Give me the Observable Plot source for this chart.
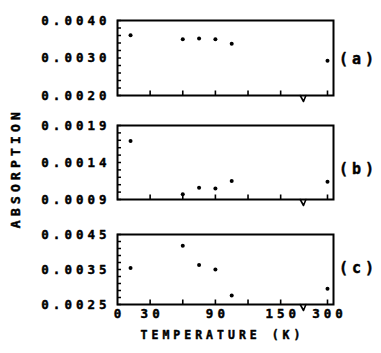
<!DOCTYPE html>
<html>
<head>
<meta charset="utf-8">
<script src="https://cdn.jsdelivr.net/npm/d3@7"></script>
<script src="https://cdn.jsdelivr.net/npm/@observablehq/plot@0.6"></script>
<style>
  body { margin: 0; background: #fff; }
  #chart { position: relative; width: 381px; height: 353px; overflow: hidden; background: #fff; }
  #chart svg { position: absolute; left: 0; overflow: visible; }
  #ylab {
    position: absolute; left: 15px; top: 168px;
    transform: translate(-50%, -50%) rotate(-90deg);
    font-family: "DejaVu Sans Mono", monospace; font-weight: bold;
    font-size: 13px; letter-spacing: 4.2px; white-space: nowrap; color: #000;
    -webkit-text-stroke: 0.5px #000;
  }
</style>
</head>
<body>
<div id="chart"><div id="ylab">ABSORPTION</div></div>
<script>
// ---- data ----
const temperatures = [12, 60, 75, 90, 105, 300];              // K
const absorptionA = [0.00361, 0.00350, 0.00352, 0.00350, 0.00338, 0.00293];
const absorptionB = [0.00169, 0.00097, 0.00106, 0.00105, 0.00115, 0.00114];
const absorptionC = [0.00354, 0.00418, 0.00363, 0.00350, 0.00276, 0.00295];
const panelLabels = ["(a)", "(b)", "(c)"];
const yDomains = [[0.0020, 0.0040], [0.0009, 0.0019], [0.0025, 0.0045]];
const yTickLabels = [[0.0020, 0.0030, 0.0040], [0.0009, 0.0014, 0.0019], [0.0025, 0.0035, 0.0045]];
const yMinorSteps = [0.0002, 0.0001, 0.0002];
const xTicks = [30, 60, 90, 120, 150, 300];
const xTickLabels = [0, 30, 90, 150, 300];
const xTitle = "TEMPERATURE (K)";
const xBreakLow = 171, xBreakHigh = 280, xMax = 305; // broken axis: 171 K .. 280 K is cut out
const upperStretch = 1.103;                           // the part after the break is drawn slightly wider

// broken-axis transform used by the x scale
const brokenAxis = t => t <= xBreakLow ? t : (t >= xBreakHigh ? xBreakLow + (t - xBreakHigh) * upperStretch : xBreakLow);

// custom symbol: a short inward (upward) tick stroke
const upTick = { draw(context) { context.moveTo(0, 0); context.lineTo(0, -5); } };

const series = [absorptionA, absorptionB, absorptionC];
const layouts = [
  {top: 0,   height: 110, marginTop: 20, marginBottom: 15, labelDy: 1.5},
  {top: 110, height: 105, marginTop: 15, marginBottom: 16, labelDy: 7},
  {top: 215, height: 138, marginTop: 19, marginBottom: 49, labelDy: -1}
];
const W = 381, ML = 117, MR = 48;
const fmt = d3.format(".4f");
const chart = document.getElementById("chart");
const textInk = {fill: "black", stroke: "black", strokeWidth: 0.45};

series.forEach((values, i) => {
  const L = layouts[i];
  const [y0, y1] = yDomains[i];
  const data = temperatures.map((t, j) => ({t, a: values[j]}));
  const n = Math.round((y1 - y0) / yMinorSteps[i]);
  const minor = d3.range(n + 1).map(k => y0 + k * yMinorSteps[i]);
  const frameH = L.height - L.marginTop - L.marginBottom;
  const frameW = W - ML - MR;
  const perPx = (y1 - y0) / frameH;
  const dip = perPx * 6;
  const tickAnchors = xTicks.map(t => ({t, v: y0}));
  const breakMark = [
    {x: xBreakLow - 3, y: y0}, {x: xBreakLow, y: y0 - dip}, {x: xBreakHigh + 2, y: y0}
  ];
  const marks = [
    Plot.ruleY(minor, {y: d => d, insetRight: frameW - 4, stroke: "black", strokeWidth: 1.5}),
    Plot.frame({stroke: "black", strokeWidth: 2}),
    Plot.dot(tickAnchors, {x: "t", y: "v", symbol: upTick, r: 3, fill: "none", stroke: "black", strokeWidth: 1.6}),
    Plot.line(breakMark, {x: "x", y: "y", stroke: "black", strokeWidth: 1.6, clip: false}),
    Plot.dot(data, {x: "t", y: "a", r: 2, fill: "black"}),
    Plot.text(yTickLabels[i], {y: d => d, text: d => fmt(d), frameAnchor: "left", dx: -7, textAnchor: "end", fontSize: 12.5, ...textInk}),
    Plot.text([panelLabels[i]], {frameAnchor: "right", dx: 25, dy: L.labelDy, textAnchor: "middle", fontSize: 15, ...textInk})
  ];
  if (i === 2) {
    marks.push(Plot.text(xTickLabels, {x: d => d, text: d => String(d), frameAnchor: "bottom", dy: 13, dx: 2, fontSize: 12.5, ...textInk}));
    marks.push(Plot.text([xTitle], {frameAnchor: "bottom", dy: 34, dx: -3, fontSize: 11.5, ...textInk}));
  }
  const svg = Plot.plot({
    width: W,
    height: L.height,
    marginLeft: ML,
    marginRight: MR,
    marginTop: L.marginTop,
    marginBottom: L.marginBottom,
    x: {type: "linear", transform: brokenAxis, domain: [0, brokenAxis(xMax)], axis: null},
    y: {domain: [y0, y1], axis: null},
    style: {
      fontFamily: "'DejaVu Sans Mono', monospace",
      fontWeight: "bold",
      fontSize: "12.5px",
      letterSpacing: "4px",
      color: "black",
      background: "transparent",
      overflow: "visible"
    },
    marks
  });
  svg.style.top = L.top + "px";
  chart.appendChild(svg);
});
</script>
</body>
</html>
